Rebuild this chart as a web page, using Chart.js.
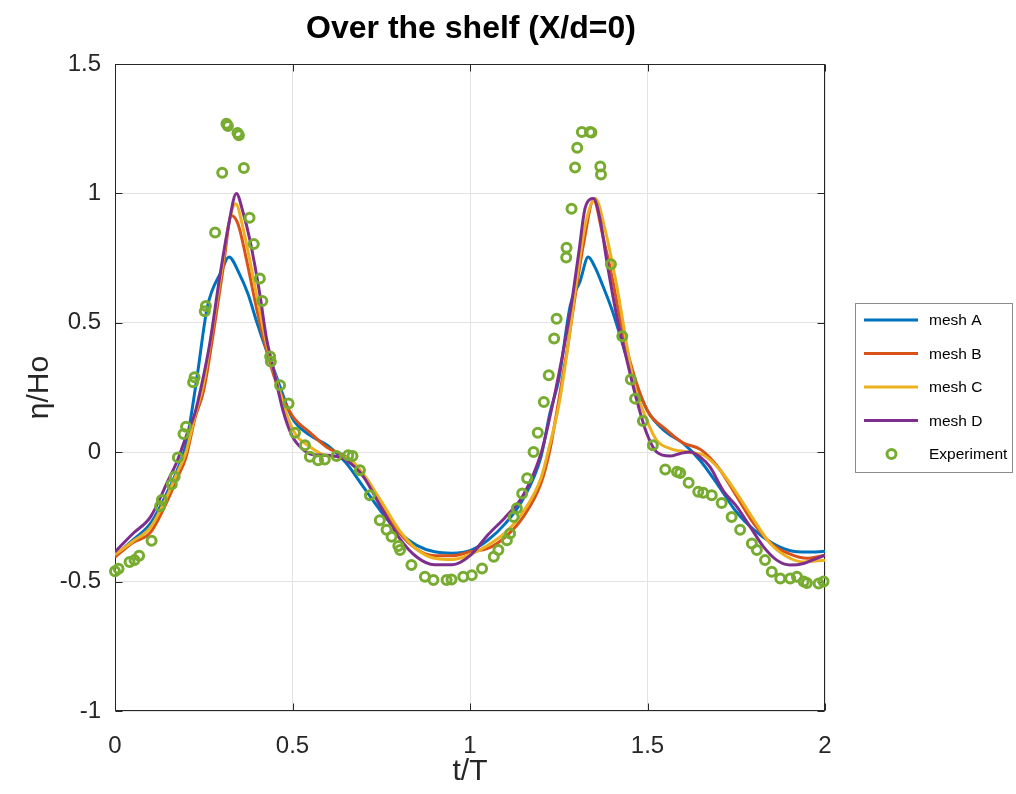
<!DOCTYPE html>
<html><head><meta charset="utf-8">
<script src="https://cdn.jsdelivr.net/npm/chart.js@4/dist/chart.umd.min.js"></script>
<style>html,body{margin:0;padding:0;background:#fff}canvas{display:block}</style>
</head><body>
<canvas id="c" width="1016" height="794"></canvas>
<script>
// ---- data ----
const titleText = 'Over the shelf (X/d=0)';
const xTitle = 't/T';
const yTitle = 'η/Ho';
const seriesNames = ['mesh A','mesh B','mesh C','mesh D','Experiment'];
const xTicks = [0, 0.5, 1, 1.5, 2];
const yTicks = [-1, -0.5, 0, 0.5, 1, 1.5];

const tA = [0,0.05,0.1,0.15,0.175,0.2,0.23,0.26,0.3,0.321,0.35,0.375,0.4,0.425,0.45,0.5,0.55,0.6,0.65,0.7,0.75,0.8,0.85,0.9,0.95,1.0,1.05,1.1,1.15,1.2,1.225,1.25,1.283,1.31,1.333,1.352,1.375,1.4,1.45,1.5,1.55,1.6,1.65,1.7,1.75,1.8,1.85,1.9,1.95,2.0];
const yA = [-0.40,-0.34,-0.275,-0.147,-0.07,0.03,0.28,0.56,0.70,0.754,0.69,0.61,0.50,0.40,0.31,0.13,0.065,0.025,-0.04,-0.135,-0.23,-0.31,-0.36,-0.385,-0.39,-0.38,-0.34,-0.275,-0.18,-0.018,0.15,0.28,0.57,0.66,0.754,0.715,0.64,0.55,0.33,0.16,0.08,0.035,-0.035,-0.13,-0.23,-0.30,-0.35,-0.38,-0.386,-0.383];

const tB = [0,0.05,0.1,0.15,0.175,0.2,0.225,0.25,0.277,0.305,0.328,0.347,0.371,0.4,0.427,0.455,0.5,0.55,0.6,0.65,0.7,0.75,0.8,0.85,0.9,0.95,1.0,1.05,1.1,1.15,1.2,1.225,1.25,1.275,1.3,1.32,1.348,1.375,1.404,1.418,1.45,1.5,1.55,1.6,1.65,1.7,1.75,1.8,1.85,1.9,1.95,2.0];
const yB = [-0.405,-0.35,-0.31,-0.18,-0.10,-0.02,0.13,0.24,0.46,0.715,0.915,0.88,0.74,0.548,0.394,0.265,0.14,0.075,0.016,-0.017,-0.09,-0.20,-0.31,-0.375,-0.40,-0.40,-0.385,-0.372,-0.327,-0.25,-0.12,0.008,0.2,0.407,0.638,0.806,0.973,0.831,0.651,0.548,0.355,0.16,0.09,0.036,0.01,-0.06,-0.168,-0.277,-0.355,-0.393,-0.41,-0.398];

const tC = [0,0.05,0.1,0.15,0.175,0.2,0.225,0.25,0.275,0.3,0.32,0.34,0.36,0.4,0.425,0.45,0.5,0.55,0.6,0.65,0.7,0.75,0.8,0.85,0.9,0.95,1.0,1.05,1.1,1.15,1.2,1.225,1.25,1.275,1.3,1.325,1.353,1.381,1.414,1.46,1.498,1.526,1.564,1.61,1.658,1.705,1.752,1.799,1.846,1.893,1.94,2.0];
const yC = [-0.395,-0.345,-0.29,-0.16,-0.08,0.0,0.14,0.27,0.48,0.70,0.88,0.96,0.87,0.60,0.43,0.30,0.09,0.02,-0.015,-0.02,-0.085,-0.19,-0.30,-0.375,-0.41,-0.415,-0.395,-0.36,-0.31,-0.23,-0.10,0.03,0.18,0.40,0.66,0.88,0.98,0.857,0.638,0.278,0.124,0.046,0.014,0.001,-0.012,-0.07,-0.16,-0.26,-0.353,-0.404,-0.424,-0.417];

const tD = [0,0.05,0.1,0.15,0.175,0.2,0.225,0.244,0.267,0.295,0.319,0.342,0.36,0.38,0.408,0.426,0.445,0.473,0.5,0.53,0.56,0.6,0.65,0.7,0.75,0.8,0.85,0.9,0.95,1.0,1.05,1.1,1.15,1.2,1.225,1.25,1.283,1.306,1.325,1.348,1.367,1.385,1.414,1.442,1.47,1.498,1.526,1.564,1.592,1.62,1.648,1.676,1.714,1.752,1.789,1.827,1.864,1.902,1.94,1.977,2.0];
const yD = [-0.385,-0.315,-0.25,-0.108,-0.035,0.06,0.15,0.26,0.42,0.677,0.87,1.0,0.93,0.82,0.61,0.445,0.33,0.162,0.06,0.01,-0.01,-0.012,-0.03,-0.095,-0.215,-0.33,-0.405,-0.435,-0.435,-0.40,-0.32,-0.25,-0.166,-0.005,0.136,0.30,0.548,0.767,0.947,0.98,0.896,0.741,0.522,0.355,0.2,0.072,0.0,-0.015,-0.005,0.001,-0.018,-0.057,-0.15,-0.211,-0.288,-0.366,-0.417,-0.436,-0.43,-0.41,-0.398];

const tE = [0.000,0.010,0.041,0.055,0.068,0.103,0.127,0.132,0.160,0.168,0.177,0.193,0.200,0.220,0.224,0.253,0.256,0.282,0.302,0.314,0.318,0.345,0.349,0.363,0.379,0.391,0.408,0.415,0.437,0.439,0.465,0.489,0.507,0.535,0.549,0.572,0.591,0.624,0.657,0.669,0.690,0.718,0.746,0.765,0.779,0.798,0.803,0.835,0.873,0.897,0.934,0.948,0.981,1.005,1.034,1.067,1.080,1.104,1.113,1.123,1.132,1.147,1.161,1.179,1.191,1.208,1.222,1.237,1.244,1.271,1.272,1.286,1.296,1.302,1.315,1.338,1.342,1.367,1.369,1.397,1.429,1.453,1.465,1.487,1.515,1.550,1.583,1.592,1.616,1.643,1.657,1.681,1.709,1.737,1.761,1.794,1.808,1.831,1.850,1.874,1.902,1.921,1.940,1.949,1.982,1.996];
const yE = [-0.460,-0.450,-0.424,-0.417,-0.400,-0.342,-0.209,-0.185,-0.124,-0.095,-0.020,0.070,0.098,0.270,0.290,0.545,0.565,0.849,1.080,1.269,1.260,1.233,1.225,1.098,0.906,0.804,0.671,0.584,0.370,0.350,0.259,0.188,0.075,0.027,-0.018,-0.031,-0.028,-0.015,-0.012,-0.015,-0.070,-0.166,-0.263,-0.300,-0.327,-0.362,-0.378,-0.436,-0.481,-0.494,-0.494,-0.492,-0.481,-0.475,-0.449,-0.404,-0.378,-0.340,-0.314,-0.250,-0.217,-0.160,-0.101,0.001,0.075,0.194,0.297,0.439,0.516,0.752,0.790,0.941,1.100,1.176,1.237,1.237,1.235,1.104,1.073,0.726,0.448,0.281,0.207,0.121,0.027,-0.067,-0.076,-0.080,-0.118,-0.153,-0.157,-0.166,-0.196,-0.250,-0.300,-0.353,-0.378,-0.417,-0.462,-0.488,-0.488,-0.481,-0.500,-0.505,-0.507,-0.500];

// ---- styles ----
const colors = ['#0072BD','#D95319','#EDB120','#7E2F8E','#77AC30'];
const FONT = '"Liberation Sans", Arial, Helvetica, sans-serif';
const TXT = '#262626';

const pts = (t, y) => t.map((v, i) => ({x: v, y: y[i]}));
const lineDs = (i, t, y) => ({
  label: seriesNames[i], data: pts(t, y), borderColor: colors[i], backgroundColor: colors[i],
  borderWidth: 3, pointRadius: 0, cubicInterpolationMode: 'monotone', order: 4 - i, fill: false
});

const decor = {
  id: 'decor',
  beforeDatasetsDraw(chart) {
    const {ctx, chartArea: a, scales} = chart;
    ctx.save();
    ctx.strokeStyle = TXT; ctx.lineWidth = 1;
    const L = Math.round(a.left) + 0.5, R = Math.round(a.right) - 0.5, T = Math.round(a.top) + 0.5, B = Math.round(a.bottom) - 0.5;
    ctx.strokeRect(L, T, R - L, B - T);
    ctx.beginPath();
    const tl = 7;
    xTicks.forEach(v => {
      const x = Math.round(scales.x.getPixelForValue(v)) + 0.5;
      ctx.moveTo(x, B); ctx.lineTo(x, B - tl);
      ctx.moveTo(x, T); ctx.lineTo(x, T + tl);
    });
    yTicks.forEach(v => {
      const y = Math.round(scales.y.getPixelForValue(v)) + 0.5;
      ctx.moveTo(L, y); ctx.lineTo(L + tl, y);
      ctx.moveTo(R, y); ctx.lineTo(R - tl, y);
    });
    ctx.stroke();
    ctx.restore();
  },
  afterDraw(chart) {
    const {ctx, chartArea: a} = chart;
    ctx.save();
    // title
    ctx.fillStyle = '#000';
    ctx.textAlign = 'center'; ctx.textBaseline = 'middle';
    ctx.font = 'bold 32px ' + FONT;
    ctx.fillText(titleText, (a.left + a.right) / 2 + 1, 29);
    // axis titles
    ctx.fillStyle = TXT;
    ctx.font = '30px ' + FONT;
    ctx.fillText(xTitle, (a.left + a.right) / 2, 772);
    ctx.save();
    ctx.translate(40, (a.top + a.bottom) / 2);
    ctx.rotate(-Math.PI / 2);
    ctx.fillText(yTitle, 0, 0);
    ctx.restore();
    // legend
    const bx = 855.5, by = 303.5, bw = 157, bh = 169;
    ctx.fillStyle = '#fff';
    ctx.fillRect(bx, by, bw, bh);
    ctx.strokeStyle = '#8c8c8c'; ctx.lineWidth = 1;
    ctx.strokeRect(bx, by, bw, bh);
    ctx.font = '15.5px ' + FONT;
    ctx.textAlign = 'left';
    const rows = [320, 353.5, 387, 420.5, 454];
    for (let i = 0; i < 5; i++) {
      const y = rows[i];
      if (i < 4) {
        ctx.strokeStyle = colors[i]; ctx.lineWidth = 3;
        ctx.beginPath(); ctx.moveTo(864, y); ctx.lineTo(918, y); ctx.stroke();
      } else {
        ctx.strokeStyle = colors[i]; ctx.lineWidth = 3;
        ctx.beginPath(); ctx.arc(891.5, y, 4.5, 0, Math.PI * 2); ctx.stroke();
      }
      ctx.fillStyle = '#000';
      ctx.fillText(seriesNames[i], 929, y + 1);
    }
    ctx.restore();
  }
};

new Chart(document.getElementById('c'), {
  type: 'line',
  data: {
    datasets: [
      lineDs(0, tA, yA), lineDs(1, tB, yB), lineDs(2, tC, yC), lineDs(3, tD, yD),
      { label: seriesNames[4], data: pts(tE, yE), showLine: false, borderColor: colors[4],
        backgroundColor: 'rgba(0,0,0,0)', pointRadius: 4.5, pointBorderWidth: 3,
        pointStyle: 'circle', order: 0, clip: false }
    ]
  },
  options: {
    responsive: false, animation: false, devicePixelRatio: 1,
    layout: { padding: { top: 64, right: 191, left: 0, bottom: 0 } },
    plugins: { legend: { display: false }, title: { display: false }, tooltip: { enabled: false } },
    scales: {
      x: {
        type: 'linear', min: 0, max: 2,
        afterBuildTicks: s => { s.ticks = xTicks.map(v => ({value: v})); },
        afterFit: s => { s.height = 83; },
        grid: { color: '#e3e3e3', lineWidth: 1, drawTicks: false },
        border: { display: false },
        ticks: { color: TXT, font: { family: FONT, size: 24 }, padding: 21, maxRotation: 0,
                 callback: v => String(v) }
      },
      y: {
        type: 'linear', min: -1, max: 1.5,
        afterBuildTicks: s => { s.ticks = yTicks.map(v => ({value: v})); },
        afterFit: s => { s.width = 115; },
        grid: { color: '#e3e3e3', lineWidth: 1, drawTicks: false },
        border: { display: false },
        ticks: { color: TXT, font: { family: FONT, size: 24 }, padding: 14,
                 callback: v => String(v) }
      }
    }
  },
  plugins: [decor]
});
</script>
</body></html>
